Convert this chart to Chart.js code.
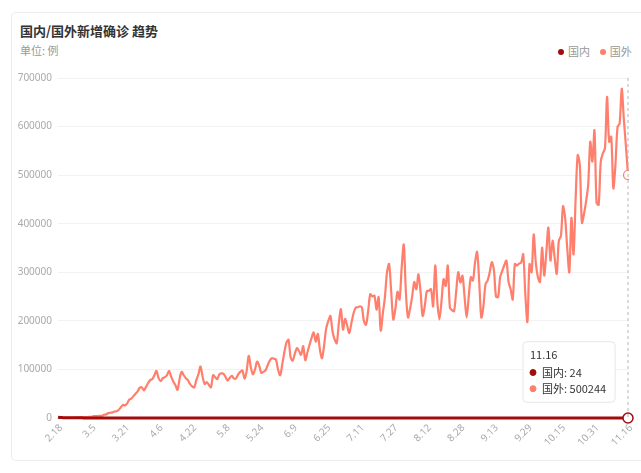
<!DOCTYPE html>
<html lang="zh">
<head>
<meta charset="UTF-8">
<title>国内/国外新增确诊 趋势</title>
<script src="https://cdn.jsdelivr.net/npm/chart.js"></script>
<style>
    body { margin: 0; background: #fff; font-family: "Noto Sans CJK SC", "Noto Sans", sans-serif; }
    .card { position: absolute; left: 11px; top: 12px; width: 640px; height: 449px; border: 1px solid #ececec; border-radius: 5px; box-sizing: border-box; }
    .title { position: absolute; left: 20px; top: 21px; font-size: 13px; font-weight: bold; color: #333; }
    .unit { position: absolute; left: 20px; top: 42px; font-size: 11px; color: #999; }
    .legend { position: absolute; left: 558px; top: 43px; font-size: 11px; color: #999; white-space: nowrap; }
    .legend span.dot { display: inline-block; width: 6px; height: 6px; border-radius: 50%; margin-right: 4px; vertical-align: 1px; }
    .wrap { position: absolute; left: 10px; top: 66px; width: 631px; height: 394px; }
</style>
</head>
<body>
<div class="card"></div>
<div class="title">国内/国外新增确诊 趋势</div>
<div class="unit">单位: 例</div>
<div class="legend"><span class="dot" style="background:#a10d0d"></span>国内&nbsp;&nbsp;&nbsp;&nbsp;<span class="dot" style="background:#ff7e6c"></span>国外</div>
<div class="wrap"><canvas id="trend"></canvas></div>

<script>
    // 2.18 ~ 11.16
    const monthDays = [[2, 18, 29], [3, 1, 31], [4, 1, 30], [5, 1, 31], [6, 1, 30], [7, 1, 31], [8, 1, 31], [9, 1, 30], [10, 1, 31], [11, 1, 16]];
    const labels = [];
    monthDays.forEach(([m, from, to]) => {
        for (let d = from; d <= to; d++) labels.push(m + "." + d);
    });

    // 国内新增
    const domestic = [
        1749, 820, 889, 397, 648, 409, 508, 406, 433, 327, 427, 573,
        202, 125, 119, 139, 143, 99, 44, 40, 19, 24, 15, 8, 11, 20, 16, 21, 13, 34, 39, 41, 46, 39, 78, 47, 67, 55, 54, 45, 31, 48, 36,
        35, 31, 19, 30, 39, 32, 41, 62, 42, 46, 99, 108, 89, 46, 36, 26, 27, 16, 17, 11, 30, 11, 10, 12, 11, 3, 6, 22, 4, 12,
        2, 1, 3, 1, 2, 2, 4, 1, 1, 14, 1, 6, 3, 7, 5, 8, 5, 7, 6, 6, 4, 3, 2, 11, 7, 1, 2, 4, 0, 4, 2,
        5, 6, 7, 6, 5, 5, 6, 3, 3, 11, 7, 11, 57, 49, 40, 44, 28, 32, 26, 22, 26, 29, 22, 19, 13, 12, 17, 12, 19, 3,
        3, 5, 5, 5, 8, 8, 2, 7, 4, 5, 7, 8, 8, 6, 6, 11, 13, 16, 22, 17, 14, 22, 22, 21, 46, 61, 68, 68, 101, 105, 127,
        45, 49, 43, 36, 27, 37, 32, 23, 23, 44, 25, 22, 19, 22, 22, 22, 21, 22, 17, 22, 14, 23, 20, 20, 15, 14, 9, 12, 9, 21, 8,
        5, 11, 10, 10, 7, 10, 8, 8, 7, 6, 17, 8, 10, 14, 7, 9, 12, 32, 14, 15, 10, 10, 7, 10, 11, 15, 21, 11, 8, 14,
        19, 15, 20, 17, 11, 11, 10, 9, 15, 16, 21, 13, 13, 19, 24, 13, 15, 13, 16, 20, 26, 20, 15, 13, 20, 46, 50, 42, 28, 25, 33,
        24, 24, 21, 22, 25, 33, 26, 20, 20, 17, 22, 8, 15, 13, 13, 24
    ];

    // 国外新增
    const foreign = [
        90, 120, 150, 200, 240, 380, 420, 450, 600, 700,
        900, 1200, 1700, 1800, 2100, 2300, 2600, 3800, 4100, 3900,
        4500, 4500, 6800, 7500, 10000, 10800, 11500, 13500, 14000, 17000,
        22000, 27000, 26000, 30000, 38000, 40000, 45000, 50000, 55000, 62000,
        63000, 57000, 64000, 72000, 78000, 80000, 88000, 97000, 82000, 76000,
        82000, 84000, 88000, 97000, 85000, 75000, 68000, 58000, 80000, 95000,
        88000, 82000, 78000, 70000, 65000, 63000, 78000, 90000, 106000, 85000,
        70000, 74000, 68000, 63000, 88000, 84000, 80000, 90000, 92000, 91000,
        84000, 77000, 83000, 87000, 81000, 82000, 90000, 95000, 98000, 81000,
        96000, 128000, 105000, 90000, 100000, 116000, 108000, 93000, 95000, 98000,
        108000, 118000, 123000, 122000, 120000, 100000, 88000, 110000, 135000, 155000,
        161000, 125000, 118000, 132000, 144000, 138000, 130000, 148000, 119000, 135000,
        150000, 165000, 176000, 157000, 173000, 140000, 123000, 150000, 185000, 200000,
        210000, 178000, 162000, 154000, 195000, 224000, 182000, 204000, 190000, 175000,
        195000, 215000, 227000, 228000, 230000, 228000, 199000, 192000, 220000, 255000,
        250000, 252000, 223000, 249000, 180000, 215000, 249000, 300000, 317000, 260000,
        203000, 225000, 260000, 244000, 310000, 357000, 260000, 207000, 225000, 250000,
        280000, 265000, 296000, 260000, 210000, 230000, 261000, 262000, 265000, 230000,
        314000, 240000, 203000, 240000, 286000, 272000, 314000, 227000, 222000, 220000,
        260000, 300000, 279000, 293000, 250000, 207000, 250000, 290000, 283000, 320000,
        342000, 280000, 207000, 230000, 275000, 283000, 300000, 321000, 305000, 250000,
        249000, 290000, 303000, 315000, 324000, 280000, 265000, 244000, 317000, 314000,
        318000, 320000, 337000, 255000, 198000, 317000, 300000, 378000, 320000, 290000,
        280000, 351000, 293000, 340000, 392000, 324000, 365000, 330000, 297000, 365000,
        375000, 436000, 412000, 350000, 300000, 412000, 337000, 450000, 541000, 521000,
        402000, 420000, 446000, 480000, 569000, 528000, 592000, 443000, 439000, 528000,
        545000, 555000, 661000, 569000, 579000, 473000, 521000, 599000, 606000, 678000,
        616000, 560000, 500244
    ];

    const lastIndex = labels.length - 1;

    Chart.Tooltip.positioners.fixedBox = function (items) {
        if (!items.length) return false;
        return { x: 513, y: 306 };
    };

    // 悬停位置的竖虚线
    const hoverLine = {
        id: "hoverLine",
        afterDatasetsDraw(chart) {
            const active = chart.getActiveElements();
            if (!active.length) return;
            const x = active[0].element.x;
            const ctx = chart.ctx;
            ctx.save();
            ctx.setLineDash([3, 3]);
            ctx.strokeStyle = "#b5b5b5";
            ctx.lineWidth = 1;
            ctx.beginPath();
            ctx.moveTo(x, chart.chartArea.top);
            ctx.lineTo(x, chart.chartArea.bottom);
            ctx.stroke();
            ctx.restore();
        }
    };

    const chart = new Chart(document.getElementById("trend"), {
        type: "line",
        data: {
            labels: labels,
            datasets: [
                {
                    label: "国内",
                    data: domestic,
                    borderColor: "#a10d0d",
                    backgroundColor: "#a10d0d",
                    borderWidth: 3,
                    pointRadius: 0,
                    pointHoverRadius: 5,
                    pointHoverBorderWidth: 1.5,
                    pointHoverBackgroundColor: "#fff",
                    pointHoverBorderColor: "#a10d0d",
                    tension: 0.3,
                    clip: false
                },
                {
                    label: "国外",
                    data: foreign,
                    borderColor: "#ff7e6c",
                    backgroundColor: "#ff7e6c",
                    borderWidth: 2.2,
                    pointRadius: 0,
                    pointHoverRadius: 4.5,
                    pointHoverBorderWidth: 1.2,
                    pointHoverBackgroundColor: "#fff",
                    pointHoverBorderColor: "#ff7e6c",
                    tension: 0.3
                }
            ]
        },
        options: {
            responsive: true,
            maintainAspectRatio: false,
            animation: false,
            events: [],
            layout: { padding: { top: 10, right: 13, left: 0, bottom: 0 } },
            scales: {
                x: {
                    grid: { display: false, drawTicks: false },
                    border: { display: false },
                    ticks: {
                        autoSkip: false,
                        maxRotation: 45,
                        minRotation: 45,
                        color: "#aaa",
                        font: { size: 10, family: "Noto Sans" },
                        padding: 4,
                        labelOffset: 3,
                        callback: function (value, index) {
                            return index % 16 === 0 ? labels[index] : null;
                        }
                    },
                    afterFit: scale => { scale.height = 42; }
                },
                y: {
                    min: 0,
                    max: 700000,
                    grid: { color: "#f2f2f2", drawTicks: false },
                    border: { display: false },
                    ticks: {
                        stepSize: 100000,
                        color: "#aaa",
                        padding: 6,
                        font: { size: 10, family: "Noto Sans" },
                        callback: value => String(value)
                    },
                    afterFit: scale => { scale.width = 48; }
                }
            },
            plugins: {
                legend: { display: false },
                title: { display: false },
                tooltip: {
                    position: "fixedBox",
                    xAlign: "left",
                    yAlign: "center",
                    caretSize: 0,
                    caretPadding: 0,
                    backgroundColor: "#fff",
                    borderColor: "#e6e6e6",
                    borderWidth: 1,
                    cornerRadius: 4,
                    padding: { left: 7, right: 9, top: 7, bottom: 7 },
                    titleColor: "#333",
                    bodyColor: "#333",
                    titleFont: { size: 11, weight: "normal", family: "Noto Sans CJK SC" },
                    bodyFont: { size: 11, family: "Noto Sans CJK SC" },
                    titleMarginBottom: 4,
                    bodySpacing: 3,
                    usePointStyle: true,
                    boxWidth: 6,
                    boxHeight: 6,
                    boxPadding: 4,
                    callbacks: {
                        label: ctx => ctx.dataset.label + ": " + ctx.raw,
                        labelColor: ctx => ({ borderColor: ctx.dataset.borderColor, backgroundColor: ctx.dataset.borderColor }),
                        labelPointStyle: () => ({ pointStyle: "circle", rotation: 0 })
                    }
                }
            }
        },
        plugins: [hoverLine]
    });

    const active = [
        { datasetIndex: 0, index: lastIndex },
        { datasetIndex: 1, index: lastIndex }
    ];
    chart.setActiveElements(active);
    chart.tooltip.setActiveElements(active, { x: 0, y: 0 });
    chart.update();
</script>
</body>
</html>
